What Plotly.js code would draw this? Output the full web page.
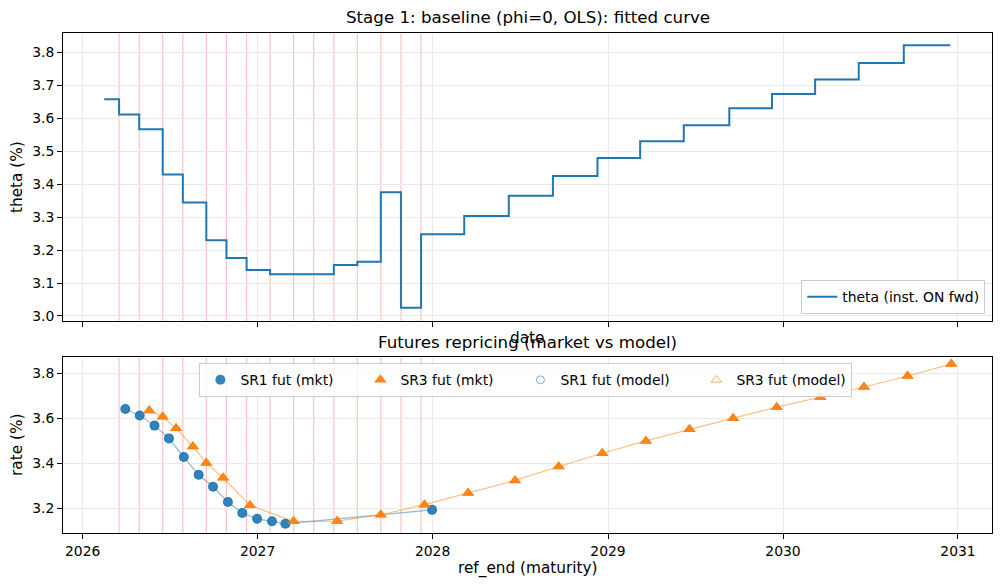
<!DOCTYPE html>
<html><head><meta charset="utf-8">
<script src="https://cdn.plot.ly/plotly-3.0.1.min.js"></script>
<style>html,body{margin:0;padding:0;background:#fff}</style>
</head><body><div id="chart" style="width:1002px;height:588px"></div>
<script>
// ---- data ----
const fomcDates = ['2026-03-18','2026-04-29','2026-06-17','2026-07-29','2026-09-16','2026-10-28','2026-12-09',
  '2027-01-27','2027-03-17','2027-04-28','2027-06-09','2027-07-28','2027-09-15','2027-10-27','2027-12-08'];

const thetaKnots = ['2026-02-15','2026-03-18','2026-04-29','2026-06-17','2026-07-29','2026-09-16','2026-10-28','2026-12-09',
  '2027-01-27','2027-03-17','2027-04-28','2027-06-09','2027-07-28','2027-09-15','2027-10-27','2027-12-08',
  '2028-03-07','2028-06-08','2028-09-08','2028-12-10','2029-03-09','2029-06-08','2029-09-11','2029-12-09',
  '2030-03-09','2030-06-08','2030-09-10'];
const thetaValues = [3.658,3.612,3.567,3.430,3.345,3.230,3.176,3.140,
  3.127,3.127,3.127,3.155,3.165,3.376,3.025,3.248,
  3.304,3.365,3.425,3.480,3.531,3.579,3.631,3.674,
  3.718,3.768,3.822];
const thetaEnd = '2030-12-16';

const sr1Dates = ['2026-03-31','2026-04-30','2026-05-31','2026-06-30','2026-07-31','2026-08-31','2026-09-30',
  '2026-10-31','2026-11-30','2026-12-31','2027-01-31','2027-02-28','2027-12-31'];
const sr1Mkt   = [3.641,3.612,3.567,3.510,3.427,3.348,3.295,3.227,3.178,3.152,3.141,3.130,3.192];
const sr1Model = [3.641,3.612,3.567,3.510,3.427,3.348,3.295,3.227,3.178,3.152,3.141,3.130,3.192];

const sr3Dates = ['2026-05-20','2026-06-17','2026-07-15','2026-08-19','2026-09-16','2026-10-21','2026-12-16',
  '2027-03-17','2027-06-16','2027-09-15','2027-12-15','2028-03-15','2028-06-21','2028-09-20','2028-12-20',
  '2029-03-21','2029-06-20','2029-09-19','2029-12-19','2030-03-20','2030-06-19','2030-09-18','2030-12-18'];
const sr3Mkt   = [3.634,3.606,3.555,3.474,3.401,3.335,3.212,3.141,3.142,3.170,3.215,3.267,3.323,3.385,3.444,
  3.499,3.551,3.600,3.649,3.693,3.739,3.788,3.841];
const sr3Model = [3.634,3.606,3.555,3.474,3.401,3.335,3.212,3.141,3.142,3.170,3.215,3.267,3.323,3.385,3.444,
  3.499,3.551,3.600,3.649,3.693,3.739,3.788,3.841];

const xRange = ['2025-11-21','2031-03-13'];
const yTopRange = [2.9848, 3.8594];
const yBotRange = [3.0889, 3.8738];

// ---- style ----
const BLUE = '#1f77b4', ORANGE = '#ff7f0e';
const FONT = 'DejaVu Sans';
const GRID = '#ebebeb';
const LABEL_SIZE = 15.3;

const traces = [
  {x: thetaKnots.concat([thetaEnd]), y: thetaValues.concat([thetaValues[thetaValues.length-1]]),
   type:'scatter', mode:'lines', line:{color:BLUE, width:2, shape:'hv'},
   name:'theta (inst. ON fwd)', xaxis:'x', yaxis:'y', legend:'legend'},
  {x: sr1Dates, y: sr1Model, type:'scatter', mode:'lines', line:{color:'rgba(31,119,180,0.5)', width:1.2},
   xaxis:'x2', yaxis:'y2', showlegend:false, hoverinfo:'skip'},
  {x: sr3Dates, y: sr3Model, type:'scatter', mode:'lines', line:{color:'rgba(255,127,14,0.5)', width:1.2},
   xaxis:'x2', yaxis:'y2', showlegend:false, hoverinfo:'skip'},
  {x: sr1Dates, y: sr1Mkt, type:'scatter', mode:'markers', name:'SR1 fut (mkt)',
   marker:{symbol:'circle', size:10, color:BLUE, opacity:0.9, line:{width:0}},
   xaxis:'x2', yaxis:'y2', legend:'legend2', legendwidth:115},
  {x: sr3Dates, y: sr3Mkt, type:'scatter', mode:'markers', name:'SR3 fut (mkt)',
   marker:{symbol:'triangle-up', size:11, color:ORANGE, opacity:0.95, line:{width:0}},
   xaxis:'x2', yaxis:'y2', legend:'legend2', legendwidth:115},
  {x: sr1Dates, y: sr1Model, type:'scatter', mode:'markers', name:'SR1 fut (model)',
   marker:{symbol:'circle-open', size:8, color:BLUE, opacity:0.6, line:{width:1}},
   xaxis:'x2', yaxis:'y2', legend:'legend2', legendwidth:131},
  {x: sr3Dates, y: sr3Model, type:'scatter', mode:'markers', name:'SR3 fut (model)',
   marker:{symbol:'triangle-up-open', size:9, color:ORANGE, opacity:0.6, line:{width:1}},
   xaxis:'x2', yaxis:'y2', legend:'legend2', legendwidth:110}
];

const shapes = [];
fomcDates.forEach(d => {
  shapes.push({type:'line', xref:'x', yref:'paper', x0:d, x1:d, y0:0.424, y1:1,
    line:{color:'rgba(255,0,0,0.24)', width:1.2}, layer:'below'});
  shapes.push({type:'line', xref:'x2', yref:'paper', x0:d, x1:d, y0:0, y1:0.3526,
    line:{color:'rgba(255,0,0,0.24)', width:1.2}, layer:'below'});
});

const axCommon = {
  showline:true, mirror:true, linecolor:'#000', linewidth:1,
  ticks:'outside', ticklen:5, tickwidth:1, tickcolor:'#000',
  showgrid:true, gridcolor:GRID, gridwidth:1, zeroline:false,
  tickfont:{family:FONT, size:13.9, color:'#000'}
};

const layout = {
  width:1002, height:588,
  margin:{l:63, r:10, t:33, b:55},
  paper_bgcolor:'#fff', plot_bgcolor:'rgba(0,0,0,0)',
  font:{family:FONT, size:13.9, color:'#000'},
  showlegend:true,
  xaxis: Object.assign({}, axCommon, {type:'date', range:xRange, domain:[0,1], anchor:'y',
    tick0:'2026-01-01', dtick:'M12', tickformat:'%Y', showticklabels:false}),
  yaxis: Object.assign({}, axCommon, {range:yTopRange, domain:[0.424,1], anchor:'x',
    tick0:0, dtick:0.1, tickformat:'.1f'}),
  xaxis2: Object.assign({}, axCommon, {type:'date', range:xRange, domain:[0,1], anchor:'y2', matches:'x',
    tick0:'2026-01-01', dtick:'M12', tickformat:'%Y'}),
  yaxis2: Object.assign({}, axCommon, {range:yBotRange, domain:[0,0.3526], anchor:'x2',
    tick0:0, dtick:0.2, tickformat:'.1f'}),
  legend: {x:0.9928, xanchor:'right', y:0.4374, yanchor:'bottom',
    bgcolor:'rgba(255,255,255,0.8)', bordercolor:'#cccccc', borderwidth:1,
    font:{family:FONT, size:13.9, color:'#000'}},
  legend2: {orientation:'h', x:0.1468, xanchor:'left', y:0.3394, yanchor:'top',
    bgcolor:'rgba(255,255,255,0.8)', bordercolor:'#cccccc', borderwidth:1,
    font:{family:FONT, size:13.9, color:'#000'}},
  shapes: shapes,
  annotations: [
    {text:'Stage 1: baseline (phi=0, OLS): fitted curve', xref:'paper', yref:'paper', x:0.5, y:1.03,
     xanchor:'center', yanchor:'middle', showarrow:false, font:{family:FONT, size:16.67}},
    {text:'date', xref:'paper', yref:'paper', x:0.5, y:0.39, xanchor:'center', yanchor:'middle',
     showarrow:false, font:{family:FONT, size:LABEL_SIZE}},
    {text:'Futures repricing (market vs model)', xref:'paper', yref:'paper', x:0.5, y:0.382,
     xanchor:'center', yanchor:'middle', showarrow:false, font:{family:FONT, size:16.67}},
    {text:'ref_end (maturity)', xref:'paper', yref:'paper', x:0.5, y:-0.07, xanchor:'center', yanchor:'middle',
     showarrow:false, font:{family:FONT, size:LABEL_SIZE}},
    {text:'theta (%)', xref:'paper', yref:'paper', x:-0.0495, y:(533-177)/500, xanchor:'center', yanchor:'middle',
     textangle:-90, showarrow:false, font:{family:FONT, size:LABEL_SIZE}},
    {text:'rate (%)', xref:'paper', yref:'paper', x:-0.0495, y:(533-445)/500, xanchor:'center', yanchor:'middle',
     textangle:-90, showarrow:false, font:{family:FONT, size:LABEL_SIZE}}
  ]
};

Plotly.newPlot('chart', traces, layout, {staticPlot:true, displayModeBar:false});
</script></body></html>
